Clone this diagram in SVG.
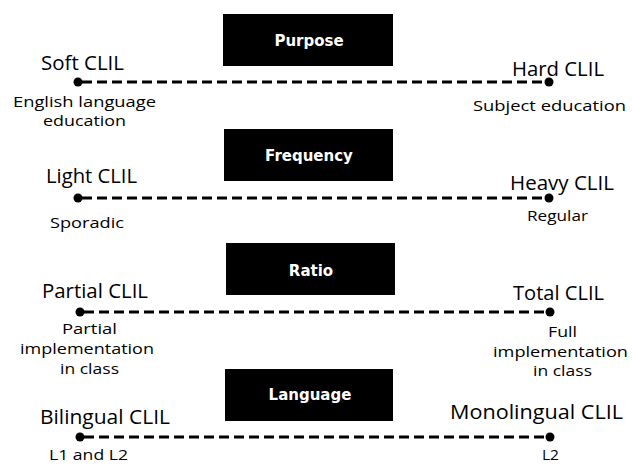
<svg xmlns="http://www.w3.org/2000/svg" width="632" height="464" viewBox="0 0 632 464">
<style>
.box{fill:#000}
.bt{font-family:"DejaVu Sans",sans-serif;font-weight:bold;font-size:15px;fill:#fff;text-anchor:middle;dominant-baseline:central}
.lab{font-family:"Open Sans",sans-serif;font-size:20px;fill:#000}
.sub{font-family:"Open Sans",sans-serif;font-size:15px;fill:#000}
.dl{stroke:#000;stroke-width:3;stroke-dasharray:10 5;fill:none}
.dot{fill:#000}
</style>
<rect width="632" height="464" fill="#fff"/>
<g id="connectors">
<line class="dl" x1="82" y1="82" x2="545" y2="82"/>
<line class="dl" x1="82" y1="198" x2="545" y2="198"/>
<line class="dl" x1="84" y1="312" x2="546" y2="312"/>
<line class="dl" x1="84" y1="437" x2="546" y2="437"/>
</g>
<g id="purpose"><rect class="box" x="223" y="14" width="170" height="52"/><text class="bt" x="309" y="41">Purpose</text></g>
<g id="frequency"><rect class="box" x="224" y="129" width="169" height="52"/><text class="bt" x="309" y="156">Frequency</text></g>
<g id="ratio"><rect class="box" x="226" y="243" width="169" height="52"/><text class="bt" x="311" y="271">Ratio</text></g>
<g id="language"><rect class="box" x="225" y="369" width="168" height="52"/><text class="bt" x="310" y="395">Language</text></g>
<g id="soft"><circle class="dot" cx="78" cy="82" r="4.5"/><text class="lab" x="41" y="70" textLength="83" lengthAdjust="spacingAndGlyphs">Soft CLIL</text><text class="sub" x="13" y="107" textLength="143" lengthAdjust="spacingAndGlyphs">English language</text><text class="sub" x="43" y="126" textLength="83" lengthAdjust="spacingAndGlyphs">education</text></g>
<g id="hard"><circle class="dot" cx="549" cy="82" r="4.5"/><text class="lab" x="512" y="76" textLength="92" lengthAdjust="spacingAndGlyphs">Hard CLIL</text><text class="sub" x="473" y="111" textLength="153" lengthAdjust="spacingAndGlyphs">Subject education</text></g>
<g id="light"><circle class="dot" cx="78" cy="198" r="4.5"/><text class="lab" x="46" y="183" textLength="91" lengthAdjust="spacingAndGlyphs">Light CLIL</text><text class="sub" x="50" y="228" textLength="74" lengthAdjust="spacingAndGlyphs">Sporadic</text></g>
<g id="heavy"><circle class="dot" cx="549" cy="198" r="4.5"/><text class="lab" x="510" y="190" textLength="104" lengthAdjust="spacingAndGlyphs">Heavy CLIL</text><text class="sub" x="527" y="221" textLength="61" lengthAdjust="spacingAndGlyphs">Regular</text></g>
<g id="partial"><circle class="dot" cx="80" cy="312" r="4.5"/><text class="lab" x="42" y="298" textLength="106" lengthAdjust="spacingAndGlyphs">Partial CLIL</text><text class="sub" x="62" y="334" textLength="55" lengthAdjust="spacingAndGlyphs">Partial</text><text class="sub" x="20" y="354" textLength="134" lengthAdjust="spacingAndGlyphs">implementation</text><text class="sub" x="60" y="374" textLength="59" lengthAdjust="spacingAndGlyphs">in class</text></g>
<g id="total"><circle class="dot" cx="550" cy="312" r="4.5"/><text class="lab" x="513" y="300" textLength="91" lengthAdjust="spacingAndGlyphs">Total CLIL</text><text class="sub" x="548" y="337" textLength="29" lengthAdjust="spacingAndGlyphs">Full</text><text class="sub" x="493" y="357" textLength="135" lengthAdjust="spacingAndGlyphs">implementation</text><text class="sub" x="533" y="376" textLength="59" lengthAdjust="spacingAndGlyphs">in class</text></g>
<g id="bilingual"><circle class="dot" cx="80" cy="437" r="4.5"/><text class="lab" x="40" y="424" textLength="130" lengthAdjust="spacingAndGlyphs">Bilingual CLIL</text><text class="sub" x="49" y="460" textLength="79" lengthAdjust="spacingAndGlyphs">L1 and L2</text></g>
<g id="monolingual"><circle class="dot" cx="550" cy="437" r="4.5"/><text class="lab" x="450" y="419" textLength="173" lengthAdjust="spacingAndGlyphs">Monolingual CLIL</text><text class="sub" x="542" y="460" textLength="17" lengthAdjust="spacingAndGlyphs">L2</text></g>
</svg>
